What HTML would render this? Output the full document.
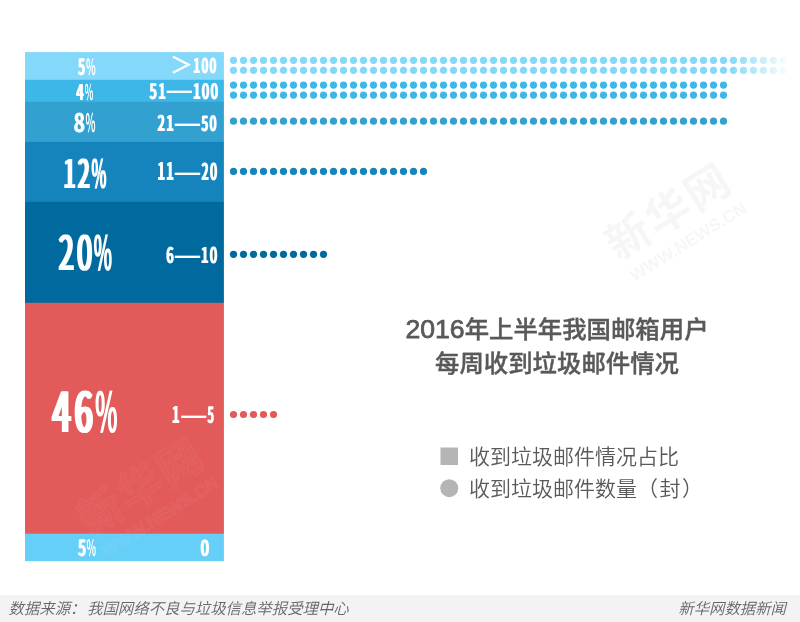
<!DOCTYPE html>
<html lang="zh-CN">
<head>
<meta charset="utf-8">
<title>2016年上半年我国邮箱用户每周收到垃圾邮件情况</title>
<style>
html,body{margin:0;padding:0;background:#fff;}
body{width:800px;height:622px;position:relative;overflow:hidden;font-family:"Liberation Sans","Noto Sans CJK SC",sans-serif;}
svg{position:absolute;left:0;top:0;}
.title{position:absolute;left:357px;width:400px;text-align:center;color:#5a5858;font-weight:500;font-size:24.4px;line-height:34px;white-space:nowrap;-webkit-text-stroke:0.4px #5a5858;}
.title b{line-height:0;font-weight:normal;font-size:26.6px;-webkit-text-stroke:0.75px #5a5858;}
.lg{position:absolute;left:469px;color:#5a5858;font-weight:350;font-size:21px;line-height:32px;white-space:nowrap;}
.foot{position:absolute;left:0;top:595px;width:800px;height:27px;background:#f3f3f3;}
.foot span{position:absolute;top:0;line-height:27px;font-size:15.4px;font-style:italic;font-weight:350;color:#666;white-space:nowrap;}
.foot i{margin-left:1.6px;}
</style>
</head>
<body>
<svg width="800" height="622" viewBox="0 0 800 622">
<defs>
<linearGradient id="fade" x1="730" x2="790" y1="0" y2="0" gradientUnits="userSpaceOnUse"><stop offset="0" stop-color="#fff" stop-opacity="0"/><stop offset="1" stop-color="#fff" stop-opacity="1"/></linearGradient>
<filter id="w1" x="-25%" y="-5%" width="150%" height="110%"><feOffset dx="1" result="o"/><feMerge><feMergeNode in="o"/><feMergeNode in="SourceGraphic"/></feMerge></filter>
<filter id="w2" x="-25%" y="-5%" width="150%" height="110%"><feMorphology operator="dilate" radius="1 0"/></filter>
<filter id="w3" x="-25%" y="-5%" width="150%" height="110%"><feMorphology operator="dilate" radius="1 0" result="m"/><feOffset dx="1" result="o"/><feMerge><feMergeNode in="o"/><feMergeNode in="m"/></feMerge></filter>
<filter id="w4" x="-25%" y="-5%" width="150%" height="110%"><feMorphology operator="dilate" radius="2 0"/></filter>
</defs>
<rect x="25" y="52.1" width="198.9" height="28.00" fill="#84d9fa"/>
<rect x="25" y="79.8" width="198.9" height="21.70" fill="#3db7e8"/>
<rect x="25" y="101.2" width="198.9" height="40.95" fill="#33a1d0"/>
<rect x="25" y="141.85" width="198.9" height="60.30" fill="#1584bd"/>
<rect x="25" y="201.85" width="198.9" height="101.25" fill="#006a9e"/>
<rect x="25" y="302.8" width="198.9" height="231.20" fill="#e25a59"/>
<rect x="25" y="533.7" width="198.9" height="27.50" fill="#66cff8"/>
<g fill="#84d9fa"><circle cx="233.5" cy="60.3" r="3.6"/><circle cx="243.5" cy="60.3" r="3.6"/><circle cx="253.5" cy="60.3" r="3.6"/><circle cx="263.5" cy="60.3" r="3.6"/><circle cx="273.5" cy="60.3" r="3.6"/><circle cx="283.5" cy="60.3" r="3.6"/><circle cx="293.5" cy="60.3" r="3.6"/><circle cx="303.5" cy="60.3" r="3.6"/><circle cx="313.5" cy="60.3" r="3.6"/><circle cx="323.5" cy="60.3" r="3.6"/><circle cx="333.5" cy="60.3" r="3.6"/><circle cx="343.5" cy="60.3" r="3.6"/><circle cx="353.5" cy="60.3" r="3.6"/><circle cx="363.5" cy="60.3" r="3.6"/><circle cx="373.5" cy="60.3" r="3.6"/><circle cx="383.5" cy="60.3" r="3.6"/><circle cx="393.5" cy="60.3" r="3.6"/><circle cx="403.5" cy="60.3" r="3.6"/><circle cx="413.5" cy="60.3" r="3.6"/><circle cx="423.5" cy="60.3" r="3.6"/><circle cx="433.5" cy="60.3" r="3.6"/><circle cx="443.5" cy="60.3" r="3.6"/><circle cx="453.5" cy="60.3" r="3.6"/><circle cx="463.5" cy="60.3" r="3.6"/><circle cx="473.5" cy="60.3" r="3.6"/><circle cx="483.5" cy="60.3" r="3.6"/><circle cx="493.5" cy="60.3" r="3.6"/><circle cx="503.5" cy="60.3" r="3.6"/><circle cx="513.5" cy="60.3" r="3.6"/><circle cx="523.5" cy="60.3" r="3.6"/><circle cx="533.5" cy="60.3" r="3.6"/><circle cx="543.5" cy="60.3" r="3.6"/><circle cx="553.5" cy="60.3" r="3.6"/><circle cx="563.5" cy="60.3" r="3.6"/><circle cx="573.5" cy="60.3" r="3.6"/><circle cx="583.5" cy="60.3" r="3.6"/><circle cx="593.5" cy="60.3" r="3.6"/><circle cx="603.5" cy="60.3" r="3.6"/><circle cx="613.5" cy="60.3" r="3.6"/><circle cx="623.5" cy="60.3" r="3.6"/><circle cx="633.5" cy="60.3" r="3.6"/><circle cx="643.5" cy="60.3" r="3.6"/><circle cx="653.5" cy="60.3" r="3.6"/><circle cx="663.5" cy="60.3" r="3.6"/><circle cx="673.5" cy="60.3" r="3.6"/><circle cx="683.5" cy="60.3" r="3.6"/><circle cx="693.5" cy="60.3" r="3.6"/><circle cx="703.5" cy="60.3" r="3.6"/><circle cx="713.5" cy="60.3" r="3.6"/><circle cx="723.5" cy="60.3" r="3.6"/><circle cx="733.5" cy="60.3" r="3.6"/><circle cx="743.5" cy="60.3" r="3.6"/><circle cx="753.5" cy="60.3" r="3.6"/><circle cx="763.5" cy="60.3" r="3.6"/><circle cx="773.5" cy="60.3" r="3.6"/><circle cx="783.5" cy="60.3" r="3.6"/></g>
<g fill="#84d9fa"><circle cx="233.5" cy="70.3" r="3.6"/><circle cx="243.5" cy="70.3" r="3.6"/><circle cx="253.5" cy="70.3" r="3.6"/><circle cx="263.5" cy="70.3" r="3.6"/><circle cx="273.5" cy="70.3" r="3.6"/><circle cx="283.5" cy="70.3" r="3.6"/><circle cx="293.5" cy="70.3" r="3.6"/><circle cx="303.5" cy="70.3" r="3.6"/><circle cx="313.5" cy="70.3" r="3.6"/><circle cx="323.5" cy="70.3" r="3.6"/><circle cx="333.5" cy="70.3" r="3.6"/><circle cx="343.5" cy="70.3" r="3.6"/><circle cx="353.5" cy="70.3" r="3.6"/><circle cx="363.5" cy="70.3" r="3.6"/><circle cx="373.5" cy="70.3" r="3.6"/><circle cx="383.5" cy="70.3" r="3.6"/><circle cx="393.5" cy="70.3" r="3.6"/><circle cx="403.5" cy="70.3" r="3.6"/><circle cx="413.5" cy="70.3" r="3.6"/><circle cx="423.5" cy="70.3" r="3.6"/><circle cx="433.5" cy="70.3" r="3.6"/><circle cx="443.5" cy="70.3" r="3.6"/><circle cx="453.5" cy="70.3" r="3.6"/><circle cx="463.5" cy="70.3" r="3.6"/><circle cx="473.5" cy="70.3" r="3.6"/><circle cx="483.5" cy="70.3" r="3.6"/><circle cx="493.5" cy="70.3" r="3.6"/><circle cx="503.5" cy="70.3" r="3.6"/><circle cx="513.5" cy="70.3" r="3.6"/><circle cx="523.5" cy="70.3" r="3.6"/><circle cx="533.5" cy="70.3" r="3.6"/><circle cx="543.5" cy="70.3" r="3.6"/><circle cx="553.5" cy="70.3" r="3.6"/><circle cx="563.5" cy="70.3" r="3.6"/><circle cx="573.5" cy="70.3" r="3.6"/><circle cx="583.5" cy="70.3" r="3.6"/><circle cx="593.5" cy="70.3" r="3.6"/><circle cx="603.5" cy="70.3" r="3.6"/><circle cx="613.5" cy="70.3" r="3.6"/><circle cx="623.5" cy="70.3" r="3.6"/><circle cx="633.5" cy="70.3" r="3.6"/><circle cx="643.5" cy="70.3" r="3.6"/><circle cx="653.5" cy="70.3" r="3.6"/><circle cx="663.5" cy="70.3" r="3.6"/><circle cx="673.5" cy="70.3" r="3.6"/><circle cx="683.5" cy="70.3" r="3.6"/><circle cx="693.5" cy="70.3" r="3.6"/><circle cx="703.5" cy="70.3" r="3.6"/><circle cx="713.5" cy="70.3" r="3.6"/><circle cx="723.5" cy="70.3" r="3.6"/><circle cx="733.5" cy="70.3" r="3.6"/><circle cx="743.5" cy="70.3" r="3.6"/><circle cx="753.5" cy="70.3" r="3.6"/><circle cx="763.5" cy="70.3" r="3.6"/><circle cx="773.5" cy="70.3" r="3.6"/><circle cx="783.5" cy="70.3" r="3.6"/></g>
<g fill="#3db7e8"><circle cx="233.5" cy="85.1" r="3.6"/><circle cx="243.5" cy="85.1" r="3.6"/><circle cx="253.5" cy="85.1" r="3.6"/><circle cx="263.5" cy="85.1" r="3.6"/><circle cx="273.5" cy="85.1" r="3.6"/><circle cx="283.5" cy="85.1" r="3.6"/><circle cx="293.5" cy="85.1" r="3.6"/><circle cx="303.5" cy="85.1" r="3.6"/><circle cx="313.5" cy="85.1" r="3.6"/><circle cx="323.5" cy="85.1" r="3.6"/><circle cx="333.5" cy="85.1" r="3.6"/><circle cx="343.5" cy="85.1" r="3.6"/><circle cx="353.5" cy="85.1" r="3.6"/><circle cx="363.5" cy="85.1" r="3.6"/><circle cx="373.5" cy="85.1" r="3.6"/><circle cx="383.5" cy="85.1" r="3.6"/><circle cx="393.5" cy="85.1" r="3.6"/><circle cx="403.5" cy="85.1" r="3.6"/><circle cx="413.5" cy="85.1" r="3.6"/><circle cx="423.5" cy="85.1" r="3.6"/><circle cx="433.5" cy="85.1" r="3.6"/><circle cx="443.5" cy="85.1" r="3.6"/><circle cx="453.5" cy="85.1" r="3.6"/><circle cx="463.5" cy="85.1" r="3.6"/><circle cx="473.5" cy="85.1" r="3.6"/><circle cx="483.5" cy="85.1" r="3.6"/><circle cx="493.5" cy="85.1" r="3.6"/><circle cx="503.5" cy="85.1" r="3.6"/><circle cx="513.5" cy="85.1" r="3.6"/><circle cx="523.5" cy="85.1" r="3.6"/><circle cx="533.5" cy="85.1" r="3.6"/><circle cx="543.5" cy="85.1" r="3.6"/><circle cx="553.5" cy="85.1" r="3.6"/><circle cx="563.5" cy="85.1" r="3.6"/><circle cx="573.5" cy="85.1" r="3.6"/><circle cx="583.5" cy="85.1" r="3.6"/><circle cx="593.5" cy="85.1" r="3.6"/><circle cx="603.5" cy="85.1" r="3.6"/><circle cx="613.5" cy="85.1" r="3.6"/><circle cx="623.5" cy="85.1" r="3.6"/><circle cx="633.5" cy="85.1" r="3.6"/><circle cx="643.5" cy="85.1" r="3.6"/><circle cx="653.5" cy="85.1" r="3.6"/><circle cx="663.5" cy="85.1" r="3.6"/><circle cx="673.5" cy="85.1" r="3.6"/><circle cx="683.5" cy="85.1" r="3.6"/><circle cx="693.5" cy="85.1" r="3.6"/><circle cx="703.5" cy="85.1" r="3.6"/><circle cx="713.5" cy="85.1" r="3.6"/><circle cx="723.5" cy="85.1" r="3.6"/></g>
<g fill="#3db7e8"><circle cx="233.5" cy="95.1" r="3.6"/><circle cx="243.5" cy="95.1" r="3.6"/><circle cx="253.5" cy="95.1" r="3.6"/><circle cx="263.5" cy="95.1" r="3.6"/><circle cx="273.5" cy="95.1" r="3.6"/><circle cx="283.5" cy="95.1" r="3.6"/><circle cx="293.5" cy="95.1" r="3.6"/><circle cx="303.5" cy="95.1" r="3.6"/><circle cx="313.5" cy="95.1" r="3.6"/><circle cx="323.5" cy="95.1" r="3.6"/><circle cx="333.5" cy="95.1" r="3.6"/><circle cx="343.5" cy="95.1" r="3.6"/><circle cx="353.5" cy="95.1" r="3.6"/><circle cx="363.5" cy="95.1" r="3.6"/><circle cx="373.5" cy="95.1" r="3.6"/><circle cx="383.5" cy="95.1" r="3.6"/><circle cx="393.5" cy="95.1" r="3.6"/><circle cx="403.5" cy="95.1" r="3.6"/><circle cx="413.5" cy="95.1" r="3.6"/><circle cx="423.5" cy="95.1" r="3.6"/><circle cx="433.5" cy="95.1" r="3.6"/><circle cx="443.5" cy="95.1" r="3.6"/><circle cx="453.5" cy="95.1" r="3.6"/><circle cx="463.5" cy="95.1" r="3.6"/><circle cx="473.5" cy="95.1" r="3.6"/><circle cx="483.5" cy="95.1" r="3.6"/><circle cx="493.5" cy="95.1" r="3.6"/><circle cx="503.5" cy="95.1" r="3.6"/><circle cx="513.5" cy="95.1" r="3.6"/><circle cx="523.5" cy="95.1" r="3.6"/><circle cx="533.5" cy="95.1" r="3.6"/><circle cx="543.5" cy="95.1" r="3.6"/><circle cx="553.5" cy="95.1" r="3.6"/><circle cx="563.5" cy="95.1" r="3.6"/><circle cx="573.5" cy="95.1" r="3.6"/><circle cx="583.5" cy="95.1" r="3.6"/><circle cx="593.5" cy="95.1" r="3.6"/><circle cx="603.5" cy="95.1" r="3.6"/><circle cx="613.5" cy="95.1" r="3.6"/><circle cx="623.5" cy="95.1" r="3.6"/><circle cx="633.5" cy="95.1" r="3.6"/><circle cx="643.5" cy="95.1" r="3.6"/><circle cx="653.5" cy="95.1" r="3.6"/><circle cx="663.5" cy="95.1" r="3.6"/><circle cx="673.5" cy="95.1" r="3.6"/><circle cx="683.5" cy="95.1" r="3.6"/><circle cx="693.5" cy="95.1" r="3.6"/><circle cx="703.5" cy="95.1" r="3.6"/><circle cx="713.5" cy="95.1" r="3.6"/><circle cx="723.5" cy="95.1" r="3.6"/></g>
<g fill="#33a1d0"><circle cx="233.5" cy="121.2" r="3.6"/><circle cx="243.5" cy="121.2" r="3.6"/><circle cx="253.5" cy="121.2" r="3.6"/><circle cx="263.5" cy="121.2" r="3.6"/><circle cx="273.5" cy="121.2" r="3.6"/><circle cx="283.5" cy="121.2" r="3.6"/><circle cx="293.5" cy="121.2" r="3.6"/><circle cx="303.5" cy="121.2" r="3.6"/><circle cx="313.5" cy="121.2" r="3.6"/><circle cx="323.5" cy="121.2" r="3.6"/><circle cx="333.5" cy="121.2" r="3.6"/><circle cx="343.5" cy="121.2" r="3.6"/><circle cx="353.5" cy="121.2" r="3.6"/><circle cx="363.5" cy="121.2" r="3.6"/><circle cx="373.5" cy="121.2" r="3.6"/><circle cx="383.5" cy="121.2" r="3.6"/><circle cx="393.5" cy="121.2" r="3.6"/><circle cx="403.5" cy="121.2" r="3.6"/><circle cx="413.5" cy="121.2" r="3.6"/><circle cx="423.5" cy="121.2" r="3.6"/><circle cx="433.5" cy="121.2" r="3.6"/><circle cx="443.5" cy="121.2" r="3.6"/><circle cx="453.5" cy="121.2" r="3.6"/><circle cx="463.5" cy="121.2" r="3.6"/><circle cx="473.5" cy="121.2" r="3.6"/><circle cx="483.5" cy="121.2" r="3.6"/><circle cx="493.5" cy="121.2" r="3.6"/><circle cx="503.5" cy="121.2" r="3.6"/><circle cx="513.5" cy="121.2" r="3.6"/><circle cx="523.5" cy="121.2" r="3.6"/><circle cx="533.5" cy="121.2" r="3.6"/><circle cx="543.5" cy="121.2" r="3.6"/><circle cx="553.5" cy="121.2" r="3.6"/><circle cx="563.5" cy="121.2" r="3.6"/><circle cx="573.5" cy="121.2" r="3.6"/><circle cx="583.5" cy="121.2" r="3.6"/><circle cx="593.5" cy="121.2" r="3.6"/><circle cx="603.5" cy="121.2" r="3.6"/><circle cx="613.5" cy="121.2" r="3.6"/><circle cx="623.5" cy="121.2" r="3.6"/><circle cx="633.5" cy="121.2" r="3.6"/><circle cx="643.5" cy="121.2" r="3.6"/><circle cx="653.5" cy="121.2" r="3.6"/><circle cx="663.5" cy="121.2" r="3.6"/><circle cx="673.5" cy="121.2" r="3.6"/><circle cx="683.5" cy="121.2" r="3.6"/><circle cx="693.5" cy="121.2" r="3.6"/><circle cx="703.5" cy="121.2" r="3.6"/><circle cx="713.5" cy="121.2" r="3.6"/><circle cx="723.5" cy="121.2" r="3.6"/></g>
<g fill="#1584bd"><circle cx="233.5" cy="171.4" r="3.6"/><circle cx="243.5" cy="171.4" r="3.6"/><circle cx="253.5" cy="171.4" r="3.6"/><circle cx="263.5" cy="171.4" r="3.6"/><circle cx="273.5" cy="171.4" r="3.6"/><circle cx="283.5" cy="171.4" r="3.6"/><circle cx="293.5" cy="171.4" r="3.6"/><circle cx="303.5" cy="171.4" r="3.6"/><circle cx="313.5" cy="171.4" r="3.6"/><circle cx="323.5" cy="171.4" r="3.6"/><circle cx="333.5" cy="171.4" r="3.6"/><circle cx="343.5" cy="171.4" r="3.6"/><circle cx="353.5" cy="171.4" r="3.6"/><circle cx="363.5" cy="171.4" r="3.6"/><circle cx="373.5" cy="171.4" r="3.6"/><circle cx="383.5" cy="171.4" r="3.6"/><circle cx="393.5" cy="171.4" r="3.6"/><circle cx="403.5" cy="171.4" r="3.6"/><circle cx="413.5" cy="171.4" r="3.6"/><circle cx="423.5" cy="171.4" r="3.6"/></g>
<g fill="#006a9e"><circle cx="233.5" cy="254.3" r="3.6"/><circle cx="243.5" cy="254.3" r="3.6"/><circle cx="253.5" cy="254.3" r="3.6"/><circle cx="263.5" cy="254.3" r="3.6"/><circle cx="273.5" cy="254.3" r="3.6"/><circle cx="283.5" cy="254.3" r="3.6"/><circle cx="293.5" cy="254.3" r="3.6"/><circle cx="303.5" cy="254.3" r="3.6"/><circle cx="313.5" cy="254.3" r="3.6"/><circle cx="323.5" cy="254.3" r="3.6"/></g>
<g fill="#e25a59"><circle cx="233.5" cy="414.5" r="3.6"/><circle cx="243.5" cy="414.5" r="3.6"/><circle cx="253.5" cy="414.5" r="3.6"/><circle cx="263.5" cy="414.5" r="3.6"/><circle cx="273.5" cy="414.5" r="3.6"/></g>
<rect x="725" y="52" width="75" height="26" fill="url(#fade)"/>
<rect x="440.5" y="447.5" width="17.5" height="17.5" fill="#b5b5b6"/>
<circle cx="449.3" cy="488.2" r="9" fill="#b5b5b6"/>
<g fill="#fff" font-family="Noto Sans CJK SC, Liberation Sans, sans-serif" font-weight="500" text-rendering="geometricPrecision">
<g><g filter="url(#w1)"><text transform="translate(77.59,75) scale(0.5495,1)" font-size="22.16" font-weight="700">5</text></g><g><text transform="translate(86.01,75) scale(0.4556,1)" font-size="22.16" font-weight="700">%</text></g><text x="170.2" y="73" font-size="22.2" font-weight="400" stroke="#fff" stroke-width="0.6">＞</text><g filter="url(#w1)"><text transform="translate(192.86,73) scale(0.5763,1)" font-size="20.13" font-weight="700" letter-spacing="2.10">100</text></g></g>
<g><g filter="url(#w1)"><text transform="translate(75.79,100) scale(0.5964,1)" font-size="21.65" font-weight="700">4</text></g><g><text transform="translate(84.73,100) scale(0.4123,1)" font-size="21.65" font-weight="700">%</text></g><g filter="url(#w1)"><text transform="translate(149.02,99) scale(0.5980,1)" font-size="21.13" font-weight="700" letter-spacing="2.04">51</text></g><g><text transform="translate(166.81,98) scale(1.0959,1)" font-size="23.00" font-weight="bold" font-family="Liberation Sans, sans-serif">—</text></g><g filter="url(#w1)"><text transform="translate(192.44,99) scale(0.6029,1)" font-size="21.40" font-weight="700" letter-spacing="2.02">100</text></g></g>
<g><g filter="url(#w1)"><text transform="translate(73.34,132) scale(0.7394,1)" font-size="25.53" font-weight="700">8</text></g><g><text transform="translate(85.42,132) scale(0.4050,1)" font-size="25.53" font-weight="700">%</text></g><g filter="url(#w1)"><text transform="translate(156.99,131) scale(0.5913,1)" font-size="21.46" font-weight="700" letter-spacing="2.06">21</text></g><g><text transform="translate(174.70,131) scale(1.1007,1)" font-size="23.00" font-weight="bold" font-family="Liberation Sans, sans-serif">—</text></g><g filter="url(#w1)"><text transform="translate(200.63,131) scale(0.5803,1)" font-size="20.75" font-weight="700" letter-spacing="2.10">50</text></g></g>
<g><g filter="url(#w2)"><text transform="translate(63.38,188) scale(0.5391,1)" font-size="39.34" letter-spacing="4.45">12</text></g><g filter="url(#w1)"><text transform="translate(90.98,188) scale(0.4036,1)" font-size="39.34">%</text></g><g filter="url(#w1)"><text transform="translate(157.01,180) scale(0.5222,1)" font-size="24.35" font-weight="700" letter-spacing="2.38">11</text></g><g><text transform="translate(174.83,180) scale(1.1033,1)" font-size="23.00" font-weight="bold" font-family="Liberation Sans, sans-serif">—</text></g><g filter="url(#w1)"><text transform="translate(201.03,180) scale(0.5257,1)" font-size="23.30" font-weight="700" letter-spacing="2.36">20</text></g></g>
<g><g filter="url(#w2)"><text transform="translate(58.46,270) scale(0.5815,1)" font-size="47.36" letter-spacing="4.29">20</text></g><g filter="url(#w1)"><text transform="translate(93.13,270) scale(0.4082,1)" font-size="47.36">%</text></g><g filter="url(#w1)"><text transform="translate(165.70,263) scale(0.5888,1)" font-size="21.68" font-weight="700">6</text></g><g><text transform="translate(174.83,263) scale(1.1033,1)" font-size="23.00" font-weight="bold" font-family="Liberation Sans, sans-serif">—</text></g><g filter="url(#w1)"><text transform="translate(200.54,263) scale(0.5869,1)" font-size="21.74" font-weight="700" letter-spacing="2.09">10</text></g></g>
<g><g filter="url(#w3)"><text transform="translate(52.12,432) scale(0.5834,1)" font-size="55.13" letter-spacing="6.13">46</text></g><g filter="url(#w1)"><text transform="translate(94.69,432) scale(0.4281,1)" font-size="55.13">%</text></g><g filter="url(#w1)"><text transform="translate(171.61,423) scale(0.5544,1)" font-size="23.00" font-weight="700">1</text></g><g><text transform="translate(181.27,423) scale(1.0870,1)" font-size="23.00" font-weight="bold" font-family="Liberation Sans, sans-serif">—</text></g><g filter="url(#w1)"><text transform="translate(207.06,423) scale(0.4851,1)" font-size="22.36" font-weight="700">5</text></g></g>
<g><g filter="url(#w1)"><text transform="translate(77.47,556) scale(0.6224,1)" font-size="22.19" font-weight="700">5</text></g><g><text transform="translate(86.61,556) scale(0.4516,1)" font-size="22.19" font-weight="700">%</text></g><g filter="url(#w1)"><text transform="translate(200.00,556) scale(0.6756,1)" font-size="21.90" font-weight="700">0</text></g></g>
</g>
</svg>
<div class="title" style="top:312.5px"><b>2016</b>年上半年我国邮箱用户<br>每周收到垃圾邮件情况</div>
<div class="lg" style="top:440.5px">收到垃圾邮件情况占比<br>收到垃圾邮件数量<span style="letter-spacing:1.5px">（封）</span></div>
<div class="foot"><span style="left:8.5px">数据来源：<i>我国网络不良与垃圾信息举报受理中心</i></span><span style="right:14px">新华网数据新闻</span></div>
<svg width="800" height="622" viewBox="0 0 800 622" font-weight="bold">
<g transform="translate(628,236) rotate(-32)" fill="rgba(0,0,0,0.035)"><text x="-22" y="16.5" font-family="Noto Sans CJK SC, sans-serif" font-size="44" letter-spacing="2.4">新华网</text><text x="-19" y="42.5" font-family="Liberation Sans, sans-serif" font-size="17.2">WWW.NEWS.CN</text></g>
<g transform="translate(100,511) rotate(-32)" fill="rgba(255,255,255,0.025)" stroke="rgba(255,255,255,0.06)" stroke-width="1"><text x="-22" y="16.5" font-family="Noto Sans CJK SC, sans-serif" font-size="44" letter-spacing="2.4">新华网</text><text x="-19" y="42.5" font-family="Liberation Sans, sans-serif" font-size="17.2">WWW.NEWS.CN</text></g>
</svg>
</body>
</html>
